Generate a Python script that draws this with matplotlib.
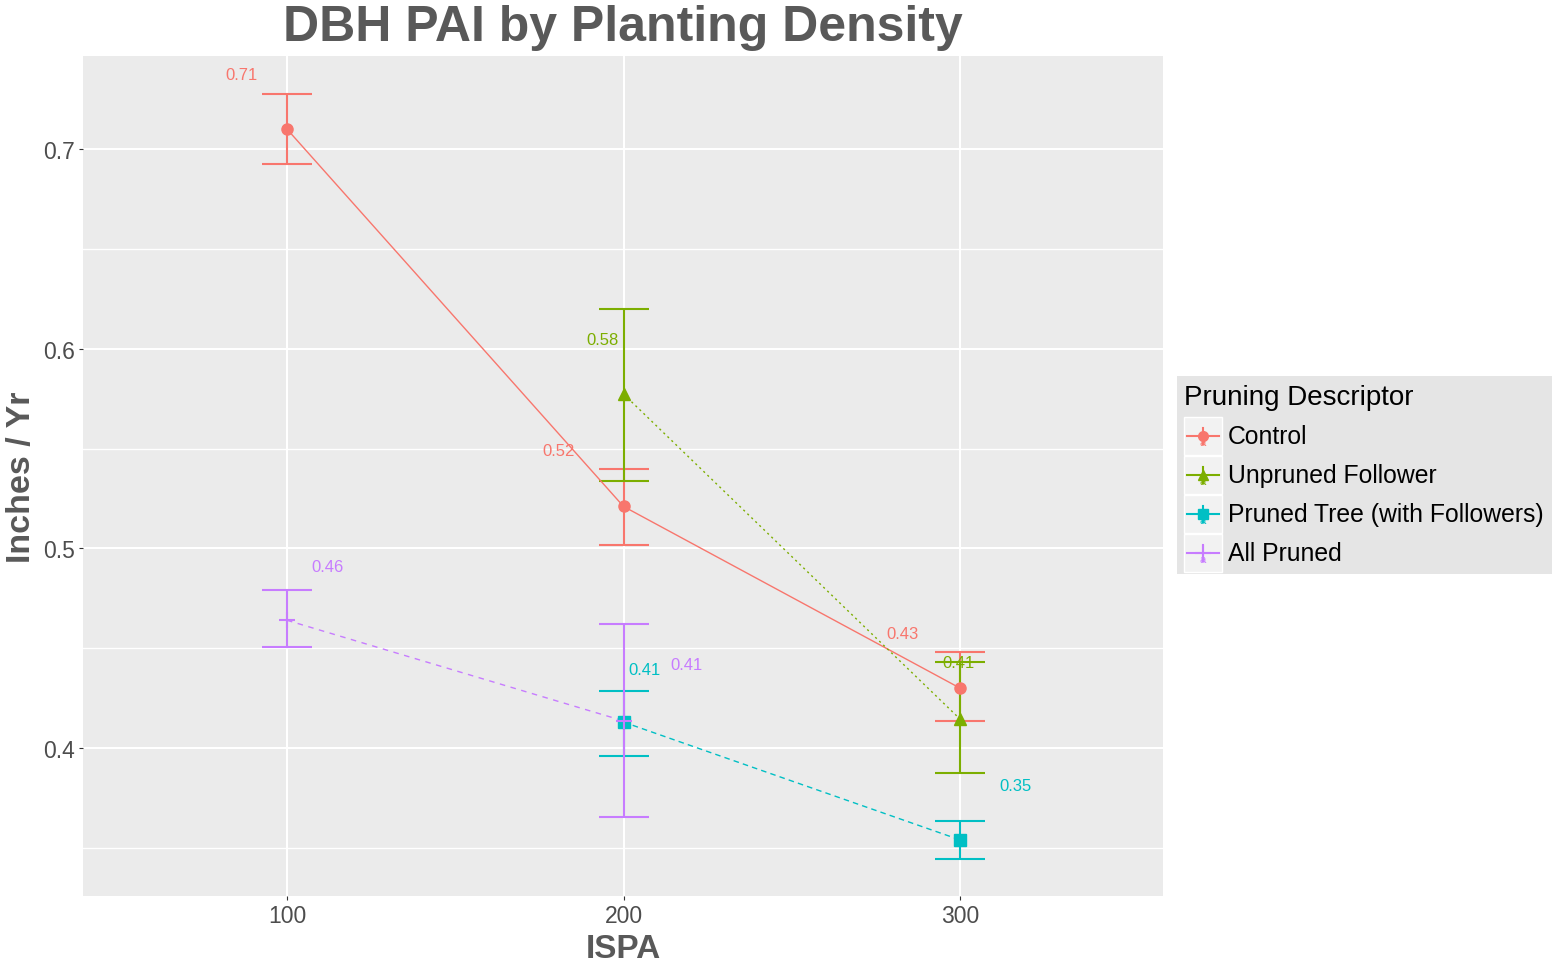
import numpy as np
import matplotlib
matplotlib.use('Agg')
import matplotlib.pyplot as plt
from matplotlib.patches import Rectangle

# data
ispa = [100, 200, 300]
groups = ['Control', 'Unpruned Follower', 'Pruned Tree (with Followers)', 'All Pruned']

ctrl_x = [100, 200, 300]
ctrl_y = [0.710, 0.521, 0.430]
ctrl_lo = [0.6925, 0.5017, 0.4135]
ctrl_hi = [0.7275, 0.5398, 0.4481]

unpr_x = [200, 300]
unpr_y = [0.5773, 0.4145]
unpr_lo = [0.5338, 0.3875]
unpr_hi = [0.6199, 0.4431]

prun_x = [200, 300]
prun_y = [0.413, 0.354]
prun_lo = [0.3961, 0.3445]
prun_hi = [0.4286, 0.3635]

allp_x = [100, 200]
allp_y = [0.464, 0.4136]
allp_lo = [0.4506, 0.3655]
allp_hi = [0.4792, 0.4622]

# where the value labels sit (text positions, not data)
ctrl_lbl = [(86.6, 0.7375), (180.7, 0.5488), (283.0, 0.4576)]
unpr_lbl = [(193.8, 0.6044), (299.4, 0.4426)]
prun_lbl = [(206.2, 0.4391), (316.6, 0.3810)]
allp_lbl = [(111.9, 0.4910), (218.7, 0.4416)]

colors = ['#F8766D', '#7CAE00', '#00BFC4', '#C77CFF']
markers = ['o', '^', 's', '+']
styles = ['-', (0, (1.5, 2.5)), (0, (4, 3)), (0, (4, 4))]

series = [
    (ctrl_x, ctrl_y, ctrl_lo, ctrl_hi, ctrl_lbl),
    (unpr_x, unpr_y, unpr_lo, unpr_hi, unpr_lbl),
    (prun_x, prun_y, prun_lo, prun_hi, prun_lbl),
    (allp_x, allp_y, allp_lo, allp_hi, allp_lbl),
]

W, H = 1565, 970
fig = plt.figure(figsize=(W/100, H/100), dpi=100)
fig.patch.set_facecolor('white')
ax = fig.add_axes([83/W, 1-897/H, (1163-83)/W, (897-57)/H])
ax.set_facecolor('#EBEBEB')
for s in ax.spines.values():
    s.set_visible(False)

ax.set_xlim(39.4, 360.3)
ax.set_ylim(0.3259, 0.7466)
ax.set_xticks(ispa)
ax.set_yticks([0.4, 0.5, 0.6, 0.7])
ax.set_yticks([0.35, 0.45, 0.55, 0.65], minor=True)
ax.grid(which='major', color='white', lw=1.5)
ax.grid(which='minor', axis='y', color='white', lw=1.0)
ax.set_axisbelow(True)
ax.tick_params(which='major', length=3, color='#333333', labelsize=16.5, labelcolor='#4D4D4D', pad=3)
ax.tick_params(which='minor', length=0)
ax.set_yticklabels(['0.4', '0.5', '0.6', '0.7'])

for i, (xs, ys, lo, hi, lbl) in enumerate(series):
    c = colors[i]
    ys = np.array(ys)
    yerr = [ys - np.array(lo), np.array(hi) - ys]
    ax.errorbar(xs, ys, yerr=yerr, fmt='none', ecolor=c, elinewidth=1.5,
                capsize=18, capthick=1.5, zorder=3)
    ax.plot(xs, ys, color=c, lw=1.0, ls=styles[i], zorder=4)
    if markers[i] == '+':
        ax.plot(xs, ys, ls='none', marker='+', ms=12, mew=1.5, color=c, zorder=5)
    else:
        ax.plot(xs, ys, ls='none', marker=markers[i], ms=8, color=c, zorder=5)
    for (tx, ty), v in zip(lbl, ys):
        ax.text(tx, ty, f'{v:.2f}', color=c, fontsize=12, ha='center', va='center',
                family='Liberation Sans', zorder=6)

fig.text(623/W, 1-28/H, 'DBH PAI by Planting Density', ha='center', va='center',
         fontsize=36, fontweight='bold', color='#595959', family='Liberation Sans')
fig.text(623/W, 1-950/H, 'ISPA', ha='center', va='center',
         fontsize=24, fontweight='bold', color='#595959', family='Liberation Sans')
fig.text(22/W, 1-477/H, 'Inches / Yr', ha='center', va='center', rotation=90,
         fontsize=24.5, fontweight='bold', color='#595959', family='Liberation Sans')
for t in ax.get_xticklabels() + ax.get_yticklabels():
    t.set_family('Liberation Sans')

# legend drawn by hand in pixel units
lx0, ly0, lw, lh = 1177, 377, 375, 198
lg = fig.add_axes([lx0/W, 1-(ly0+lh)/H, lw/W, lh/H])
lg.set_xlim(0, lw)
lg.set_ylim(lh, 0)
lg.set_facecolor('#E5E5E5')
lg.set_xticks([])
lg.set_yticks([])
for s in lg.spines.values():
    s.set_visible(False)
lg.text(7, 21, 'Pruning Descriptor', fontsize=20, va='center', ha='left',
        family='Liberation Sans', color='black')
for i, name in enumerate(groups):
    cy = 60 + 39*i
    lg.add_patch(Rectangle((7, cy-19), 38, 38, facecolor='#F2F2F2', edgecolor='white', lw=1))
    c = colors[i]
    lg.plot([10, 42], [cy, cy], color=c, lw=1.5)
    lg.plot([26, 26], [cy-8, cy+8], color=c, lw=1.5)
    if markers[i] == '+':
        lg.plot(26, cy, marker='+', ms=11, mew=1.5, color=c)
    else:
        lg.plot(26, cy, marker=markers[i], ms=7, color=c)
    lg.text(26, cy+6, 'a', fontsize=8, va='center', ha='center',
            family='Liberation Sans', color=c)
    lg.text(51, cy, name, fontsize=17.8, va='center', ha='left',
            family='Liberation Sans', color='black')

fig.savefig('out.png', dpi=100)
